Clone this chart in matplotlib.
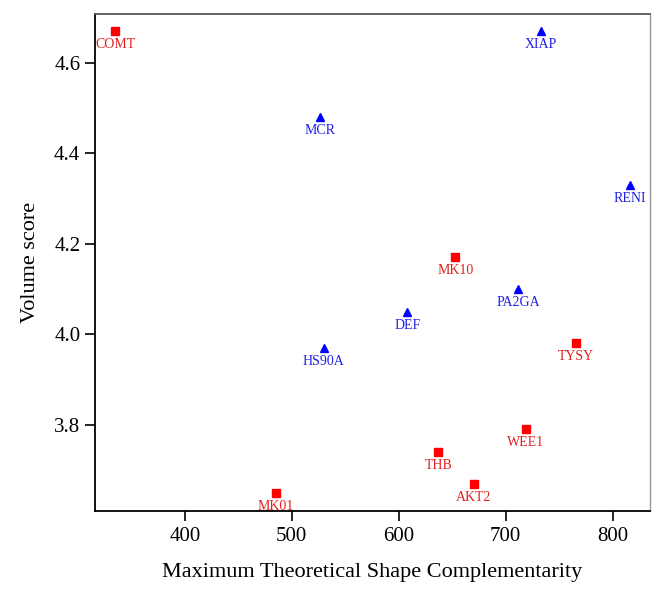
import matplotlib.pyplot as plt

# red squares
red_names = ["COMT", "MK10", "TYSY", "WEE1", "THB", "AKT2", "MK01"]
red_x = [335, 653, 766, 719, 637, 670, 485]
red_y = [4.67, 4.17, 3.98, 3.79, 3.74, 3.67, 3.65]

# blue triangles
blue_names = ["XIAP", "MCR", "RENI", "PA2GA", "DEF", "HS90A"]
blue_x = [733, 526, 816, 712, 608, 530]
blue_y = [4.67, 4.48, 4.33, 4.10, 4.05, 3.97]

plt.rcParams['font.family'] = ['Liberation Serif', 'DejaVu Serif']

fig, ax = plt.subplots(figsize=(6.64, 5.96), dpi=100)
fig.subplots_adjust(left=0.143, right=0.979, top=0.977, bottom=0.143)

ax.plot(red_x, red_y, 's', color='#ff0000', markersize=5.5, linestyle='none')
ax.plot(blue_x, blue_y, '^', color='#0000ff', markersize=6, linestyle='none')

for n, x, y in zip(red_names, red_x, red_y):
    ax.annotate(n, (x, y), xytext=(0, -5), textcoords='offset points',
                ha='center', va='top', fontsize=10, color='#e0201f')
for n, x, y in zip(blue_names, blue_x, blue_y):
    ax.annotate(n, (x, y), xytext=(0, -5), textcoords='offset points',
                ha='center', va='top', fontsize=10, color='#2020e0')

ax.set_xlim(316, 835)
ax.set_ylim(3.61, 4.708)
ax.set_xticks([400, 500, 600, 700, 800])
ax.set_yticks([3.8, 4.0, 4.2, 4.4, 4.6])
ax.set_yticklabels(["3.8", "4.0", "4.2", "4.4", "4.6"])
ax.tick_params(axis='both', labelsize=15, length=7, width=1.2, direction='out')
ax.tick_params(axis='x', pad=5)
ax.set_xlabel("Maximum Theoretical Shape Complementarity", fontsize=16, labelpad=12)
ax.set_ylabel("Volume score", fontsize=16, labelpad=10)

ax.spines['left'].set_linewidth(1.3)
ax.spines['bottom'].set_linewidth(1.3)
ax.spines['top'].set_color('#555555')
ax.spines['top'].set_linewidth(1.3)
ax.spines['right'].set_color('#999999')
ax.spines['right'].set_linewidth(1.0)

plt.savefig("out.png", dpi=100)
